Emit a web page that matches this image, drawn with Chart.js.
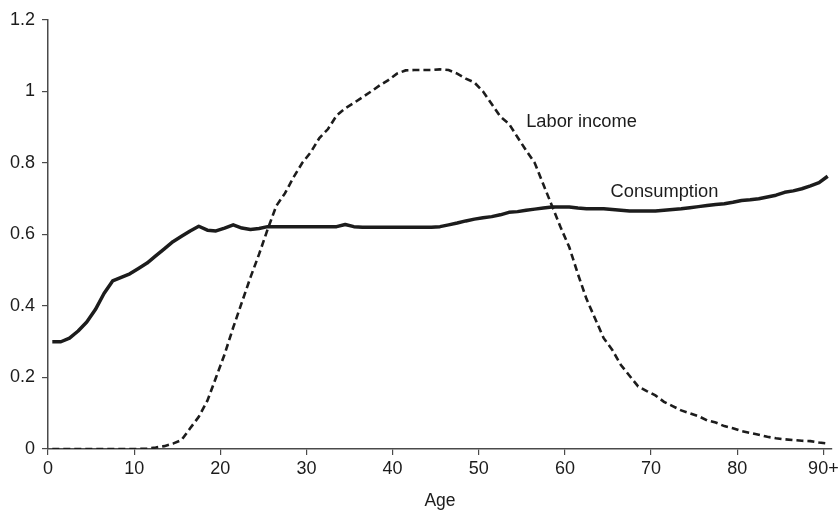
<!DOCTYPE html>
<html>
<head>
<meta charset="utf-8">
<script src="https://cdn.jsdelivr.net/npm/chart.js@4"></script>
<style>
  html, body { margin: 0; padding: 0; background: #ffffff; }
  #wrap { width: 840px; height: 512px; position: relative; }
</style>
</head>
<body>
<div id="wrap"><canvas id="c" width="840" height="512"></canvas></div>
<script>
// Ages 0..90 (90 = "90+")
const ages = [0,1,2,3,4,5,6,7,8,9,10,11,12,13,14,15,16,17,18,19,20,21,22,23,24,25,26,27,28,29,30,
  31,32,33,34,35,36,37,38,39,40,41,42,43,44,45,46,47,48,49,50,51,52,53,54,55,56,57,58,59,60,
  61,62,63,64,65,66,67,68,69,70,71,72,73,74,75,76,77,78,79,80,81,82,83,84,85,86,87,88,89,90];

const consumption = [
  0.300,0.300,0.310,0.330,0.355,0.390,0.435,0.470,0.480,0.490,
  0.505,0.520,0.540,0.560,0.580,0.595,0.610,0.623,0.612,0.610,
  0.618,0.627,0.618,0.614,0.617,0.622,0.622,0.622,0.622,0.622,
  0.622,0.622,0.622,0.622,0.628,0.622,0.620,0.620,0.620,0.620,
  0.620,0.620,0.620,0.620,0.620,0.622,0.627,0.632,0.638,0.643,
  0.647,0.650,0.655,0.662,0.664,0.668,0.671,0.674,0.677,0.677,
  0.677,0.674,0.672,0.672,0.672,0.670,0.668,0.666,0.666,0.666,
  0.666,0.668,0.670,0.672,0.675,0.678,0.681,0.684,0.686,0.690,
  0.695,0.697,0.700,0.705,0.710,0.718,0.722,0.728,0.736,0.745,
  0.763
];

const laborIncome = [
  0.000,0.000,0.000,0.000,0.000,0.000,0.000,0.000,0.000,0.000,
  0.000,0.001,0.004,0.008,0.015,0.025,0.058,0.090,0.135,0.200,
  0.265,0.340,0.410,0.480,0.545,0.615,0.680,0.715,0.760,0.800,
  0.830,0.870,0.895,0.933,0.953,0.968,0.984,1.000,1.017,1.032,
  1.050,1.059,1.060,1.060,1.060,1.062,1.060,1.050,1.036,1.025,
  1.000,0.965,0.930,0.910,0.872,0.835,0.800,0.740,0.680,0.620,
  0.565,0.490,0.420,0.365,0.310,0.277,0.235,0.205,0.175,0.162,
  0.150,0.132,0.120,0.108,0.100,0.092,0.080,0.074,0.064,0.058,
  0.050,0.045,0.040,0.034,0.030,0.027,0.025,0.023,0.022,0.018,
  0.015
];

const xTickValues = [0,10,20,30,40,50,60,70,80,90];
const xTickLabels = ['0','10','20','30','40','50','60','70','80','90+'];
const yTickValues = [0,0.2,0.4,0.6,0.8,1.0,1.2];
const yTickLabels = ['0','0.2','0.4','0.6','0.8','1','1.2'];

const seriesNames = ['Consumption','Labor income'];
// annotation labels anchored at (age, value)
const annotationTexts = ['Labor income','Consumption'];
const annotationAges = [55.5, 65.3];
const annotationValues = [0.916, 0.72];

const FONT = '"Liberation Sans", Arial, Helvetica, sans-serif';
const INK = '#1c1c1c';
const AXIS = '#4a4a4a';

function toPoints(vals) {
  return ages.map((a, i) => ({ x: a + 0.5, y: vals[i] }));
}

const annotationPlugin = {
  id: 'annots',
  afterDatasetsDraw(chart) {
    const ctx = chart.ctx;
    const xs = chart.scales.x, ys = chart.scales.y;
    ctx.save();
    ctx.font = '18.3px ' + FONT;
    ctx.fillStyle = INK;
    ctx.textAlign = 'left';
    ctx.textBaseline = 'middle';
    annotationTexts.forEach((t, i) => {
      ctx.fillText(t, xs.getPixelForValue(annotationAges[i]), ys.getPixelForValue(annotationValues[i]));
    });
    ctx.restore();
  }
};

new Chart(document.getElementById('c'), {
  type: 'line',
  data: {
    datasets: [
      {
        label: seriesNames[0],
        data: toPoints(consumption),
        borderColor: INK,
        borderWidth: 3.5,
        pointRadius: 0,
        tension: 0,
        fill: false,
        borderJoinStyle: 'round'
      },
      {
        label: seriesNames[1],
        data: toPoints(laborIncome),
        borderColor: INK,
        borderWidth: 2.6,
        borderDash: [7, 4],
        pointRadius: 0,
        tension: 0,
        fill: false
      }
    ]
  },
  options: {
    responsive: false,
    animation: false,
    devicePixelRatio: 1,
    layout: { padding: { top: 20, right: 8, bottom: 0, left: 0 } },
    plugins: {
      legend: { display: false },
      tooltip: { enabled: false },
      title: { display: false }
    },
    scales: {
      x: {
        type: 'linear',
        min: 0,
        max: 91,
        afterBuildTicks(s) { s.ticks = xTickValues.map(v => ({ value: v })); },
        afterFit(s) { s.height = 63; s.paddingLeft = 0; s.paddingRight = 0; },
        ticks: {
          callback(v) { const i = xTickValues.indexOf(v); return i >= 0 ? xTickLabels[i] : ''; },
          font: { family: FONT, size: 18 },
          color: INK,
          padding: 3,
          maxRotation: 0,
          autoSkip: false
        },
        grid: { drawOnChartArea: false, drawTicks: true, tickLength: 6, color: AXIS, lineWidth: 1.2 },
        border: { display: true, color: AXIS, width: 1.5 },
        title: {
          display: true,
          text: 'Age',
          font: { family: FONT, size: 17.5 },
          color: INK,
          padding: { top: 0, bottom: 0 }
        }
      },
      y: {
        type: 'linear',
        min: 0,
        max: 1.2,
        afterBuildTicks(s) { s.ticks = yTickValues.map(v => ({ value: v })); },
        afterFit(s) { s.width = 48; },
        ticks: {
          callback(v) {
            const i = yTickValues.findIndex(t => Math.abs(t - v) < 1e-9);
            return i >= 0 ? yTickLabels[i] : '';
          },
          font: { family: FONT, size: 18 },
          color: INK,
          padding: 7
        },
        grid: { drawOnChartArea: false, drawTicks: true, tickLength: 6, color: AXIS, lineWidth: 1.2 },
        border: { display: true, color: AXIS, width: 1.5 }
      }
    }
  },
  plugins: [annotationPlugin]
});
</script>
</body>
</html>
